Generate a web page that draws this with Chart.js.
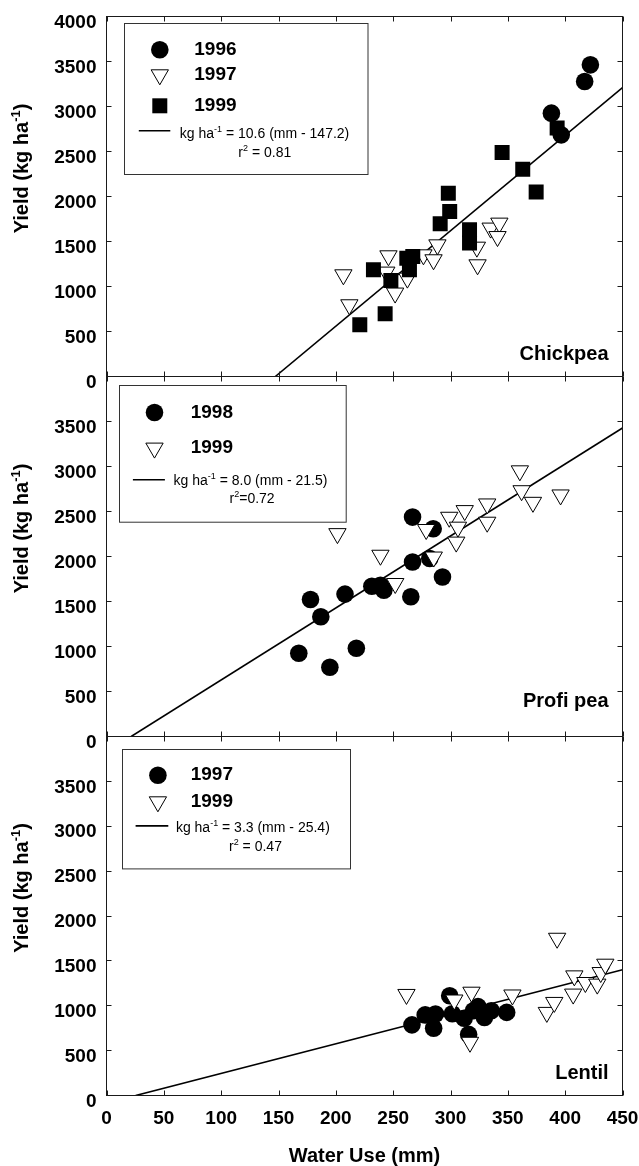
<!DOCTYPE html>
<html lang="en">
<head>
    <meta charset="UTF-8">
    <title>Yield vs Water Use</title>
    <script src="https://cdn.jsdelivr.net/npm/chart.js"></script>
    <style>
        body {
            margin: 0;
            background: #fff;
            width: 639px;
            height: 1166px;
            overflow: hidden;
            position: relative;
        }
        canvas {
            position: absolute;
            left: 0;
        }
    </style>
</head>
<body>
    <canvas id="chickpeaChart" width="639" height="395" style="top:0px"></canvas>
    <canvas id="profiChart" width="639" height="385" style="top:370px"></canvas>
    <canvas id="lentilChart" width="639" height="436" style="top:730px"></canvas>

    <script>
        // axis ticks (mm and kg/ha)
        const xTicks = [0, 50, 100, 150, 200, 250, 300, 350, 400, 450];
        const yTicks = [0, 500, 1000, 1500, 2000, 2500, 3000, 3500, 4000];

        // Chickpea [water use mm, yield kg/ha]
        const chickpea1996 = [[422, 3463], [417, 3277], [388, 2926], [396.6, 2685]];
        const chickpea1997 = [[206.6, 1130], [211.8, 797], [245.9, 1341], [244, 1160], [251.7, 927], [262.4, 1093],
            [276.4, 1352], [285.2, 1297], [288.6, 1463], [323, 1437], [323.6, 1241], [335, 1649], [342.6, 1704], [341, 1555]];
        const chickpea1999 = [[220.9, 575], [243, 697], [232.8, 1185], [248, 1067], [261.9, 1315], [267.1, 1333],
            [264.2, 1185], [291, 1696], [299.3, 1833], [298.1, 2037], [316.6, 1630], [316.6, 1482], [345, 2489],
            [363, 2304], [374.7, 2049], [393, 2760]];
        const chickpeaFit = [10.6, 147.2];

        // Profi pea
        const profi1998 = [[266.9, 2438], [284.9, 2309], [266.9, 1939], [281.9, 1977], [293, 1773], [231.4, 1670],
            [238.9, 1681], [241.9, 1626], [208, 1582], [177.9, 1523], [186.9, 1331], [265.4, 1552], [167.7, 925],
            [217.9, 981], [194.8, 770]];
        const profi1999 = [[201.4, 2254], [238.9, 2014], [251.8, 1700], [278.8, 2300], [285.4, 1994], [298.9, 2436],
            [312.4, 2510], [306.5, 2326], [305, 2160], [332, 2584], [332, 2381], [360.5, 2952], [362, 2731],
            [371.9, 2602], [396, 2684]];
        const profiFit = [8.0, 21.5];

        // Lentil
        const lentil1997 = [[266.4, 787], [277.9, 898], [286.9, 908], [285.3, 750], [299.3, 1111], [301.6, 911],
            [311.9, 861], [315.8, 681], [320, 944], [324, 990], [329.6, 870], [335.5, 945], [349, 926]];
        const lentil1999 = [[261.6, 1126], [303.3, 1064], [318.3, 1151], [317, 593], [354, 1120], [393, 1752],
            [384, 926], [390.5, 1037], [407, 1130], [408, 1333], [417.6, 1259], [428, 1241], [431, 1370], [435, 1463]];
        const lentilFit = [3.3, 25.4];

        const FONT = "'Liberation Sans', Arial, Helvetica, sans-serif";
        Chart.defaults.font.family = FONT;
        Chart.defaults.color = "#000";

        const markers = {
            circle: { style: "circle", r: 8.8, rot: 0, bg: "#000", bw: 0 },
            triangle: { style: "triangle", r: 10, rot: 180, bg: "#fff", bw: 1 },
            square: { style: "rect", r: 10.6, rot: 0, bg: "#000", bw: 0 }
        };

        function toXY(arr) {
            return arr.map(p => ({ x: p[0], y: p[1] }));
        }

        function pointSet(label, arr, kind, order) {
            const m = markers[kind];
            return {
                label: label,
                data: toXY(arr),
                pointStyle: m.style,
                pointRadius: m.r,
                pointHoverRadius: m.r,
                pointRotation: m.rot,
                pointBackgroundColor: m.bg,
                pointBorderColor: "#000",
                pointBorderWidth: m.bw,
                order: order
            };
        }

        function fitLine(fit) {
            // kg ha-1 = slope * (mm - x0), drawn from the x intercept to 450 mm
            const slope = fit[0], x0 = fit[1];
            return {
                label: "fit",
                data: [{ x: x0, y: 0 }, { x: 450, y: slope * (450 - x0) }],
                showLine: true,
                borderColor: "#000",
                borderWidth: 1.6,
                pointRadius: 0,
                order: 9
            };
        }

        function drawRich(ctx, parts, x, y, size, weight, align) {
            const base = weight + " " + size + "px " + FONT;
            const sup = weight + " " + Math.round(size * 0.65) + "px " + FONT;
            let w = 0;
            parts.forEach(p => { ctx.font = p[1] ? sup : base; w += ctx.measureText(p[0]).width; });
            let cx = align === "center" ? x - w / 2 : x;
            ctx.textAlign = "left";
            ctx.textBaseline = "alphabetic";
            parts.forEach(p => {
                ctx.font = p[1] ? sup : base;
                ctx.fillText(p[0], cx, p[1] ? y - size * 0.42 : y);
                cx += ctx.measureText(p[0]).width;
            });
        }

        function drawMarker(ctx, kind, x, y) {
            const m = markers[kind];
            ctx.fillStyle = m.bg;
            ctx.strokeStyle = "#000";
            ctx.lineWidth = m.bw;
            if (Chart.helpers && Chart.helpers.drawPoint) {
                Chart.helpers.drawPoint(ctx, { pointStyle: m.style, radius: m.r, rotation: m.rot, borderWidth: m.bw }, x, y);
                return;
            }
            ctx.beginPath();
            if (kind === "circle") {
                ctx.arc(x, y, m.r, 0, Math.PI * 2);
            } else if (kind === "square") {
                const s = m.r * Math.SQRT1_2;
                ctx.rect(x - s, y - s, 2 * s, 2 * s);
            } else {
                ctx.moveTo(x, y + m.r);
                ctx.lineTo(x - m.r * 0.866, y - m.r / 2);
                ctx.lineTo(x + m.r * 0.866, y - m.r / 2);
                ctx.closePath();
            }
            ctx.fill();
            if (m.bw > 0) ctx.stroke();
        }

        // frame with inward tick marks on all four sides
        const framePlugin = {
            id: "frame",
            afterDatasetsDraw(chart) {
                const { ctx, chartArea: a, scales } = chart;
                ctx.save();
                ctx.strokeStyle = "#1a1a1a";
                ctx.lineWidth = 1;
                ctx.strokeRect(a.left, a.top, a.right - a.left, a.bottom - a.top);
                ctx.beginPath();
                xTicks.forEach(v => {
                    const px = Math.round(scales.x.getPixelForValue(v)) + 0.5;
                    ctx.moveTo(px, a.top); ctx.lineTo(px, a.top + 5);
                    ctx.moveTo(px, a.bottom); ctx.lineTo(px, a.bottom - 5);
                });
                yTicks.forEach(v => {
                    const py = Math.round(scales.y.getPixelForValue(v) - 0.5) + 0.5;
                    ctx.moveTo(a.left, py); ctx.lineTo(a.left + 5, py);
                    ctx.moveTo(a.right, py); ctx.lineTo(a.right - 5, py);
                });
                ctx.stroke();
                ctx.restore();
            }
        };

        // y title, legend box and crop name
        const panelTextPlugin = {
            id: "panelText",
            afterDraw(chart, args, o) {
                const { ctx, chartArea: a } = chart;
                ctx.save();
                ctx.fillStyle = "#000";
                ctx.translate(28, (a.top + a.bottom) / 2 - 28);
                ctx.rotate(-Math.PI / 2);
                drawRich(ctx, [["Yield (kg ha"], ["-1", true], [")"]], 0, 0, 20, "bold", "center");
                ctx.restore();

                const bx = a.left + o.box[0], by = a.top + o.box[1];
                ctx.save();
                ctx.fillStyle = "#fff";
                ctx.fillRect(bx, by, o.box[2], o.box[3]);
                ctx.strokeStyle = "#333";
                ctx.lineWidth = 1;
                ctx.strokeRect(Math.round(bx) + 0.5, Math.round(by) + 0.5, o.box[2], o.box[3]);

                o.rows.forEach(r => {
                    drawMarker(ctx, r.marker, bx + o.markerX, by + r.dy);
                    ctx.fillStyle = "#000";
                    ctx.font = "bold 19px " + FONT;
                    ctx.textAlign = "left";
                    ctx.textBaseline = "middle";
                    ctx.fillText(r.label, bx + o.textX, by + r.dy);
                });

                ctx.strokeStyle = "#000";
                ctx.lineWidth = 1.6;
                ctx.beginPath();
                ctx.moveTo(bx + o.lineX[0], by + o.lineY);
                ctx.lineTo(bx + o.lineX[1], by + o.lineY);
                ctx.stroke();

                ctx.fillStyle = "#000";
                drawRich(ctx, [["kg ha"], ["-1", true], [o.eq]], bx + o.eqX, by + o.eqY, 14, "normal", "left");
                drawRich(ctx, [["r"], ["2", true], [o.r2]], bx + o.r2X, by + o.r2Y, 14, "normal", "center");

                ctx.font = "bold 20px " + FONT;
                ctx.textAlign = "right";
                ctx.textBaseline = "alphabetic";
                ctx.fillText(o.name, a.right - 14, a.bottom - o.nameDy);
                ctx.restore();
            }
        };

        function makePanel(canvasId, datasets, text, opts) {
            const showX = opts.showX;
            return new Chart(document.getElementById(canvasId), {
                type: "scatter",
                data: { datasets: datasets },
                options: {
                    responsive: false,
                    animation: false,
                    events: [],
                    layout: { autoPadding: false, padding: { top: opts.padTop, bottom: opts.padBottom, left: 0, right: 16.5 } },
                    plugins: {
                        legend: { display: false },
                        tooltip: { enabled: false },
                        panelText: text
                    },
                    scales: {
                        x: {
                            type: "linear",
                            min: 0,
                            max: 450,
                            display: showX,
                            grid: { display: false, drawTicks: false },
                            border: { display: false },
                            ticks: { stepSize: 50, padding: 12, font: { size: 19, weight: "bold" }, maxRotation: 0, autoSkip: false },
                            title: {
                                display: showX,
                                text: "Water Use (mm)",
                                font: { size: 20, weight: "bold", lineHeight: 1 },
                                padding: { top: 0, bottom: 0 }
                            },
                            afterFit: s => {
                                s.height = showX ? 70.5 : 0;
                                s.paddingLeft = 0;
                                s.paddingRight = 0;
                            }
                        },
                        y: {
                            type: "linear",
                            min: 0,
                            max: 4000,
                            grid: { display: false, drawTicks: false },
                            border: { display: false },
                            ticks: {
                                stepSize: 500,
                                padding: 10,
                                labelOffset: 6,
                                font: { size: 19, weight: "bold" },
                                callback: v => (opts.hideTop && v === 4000) ? "" : v
                            },
                            afterFit: s => {
                                s.width = 106.5;
                                s.paddingTop = 0;
                                s.paddingBottom = 0;
                            }
                        }
                    }
                },
                plugins: [framePlugin, panelTextPlugin]
            });
        }

        makePanel("chickpeaChart", [
            pointSet("1999", chickpea1999, "square", 0),
            pointSet("1997", chickpea1997, "triangle", 1),
            pointSet("1996", chickpea1996, "circle", 2),
            fitLine(chickpeaFit)
        ], {
            box: [17.3, 6, 243.5, 151],
            rows: [
                { marker: "circle", label: "1996", dy: 27.3 },
                { marker: "triangle", label: "1997", dy: 52.3 },
                { marker: "square", label: "1999", dy: 83.3 }
            ],
            markerX: 36, textX: 70.5,
            lineX: [15, 46.5], lineY: 108.3,
            eq: " = 10.6 (mm - 147.2)", eqX: 56, eqY: 115.3,
            r2: " = 0.81", r2X: 141, r2Y: 134,
            name: "Chickpea", nameDy: 16.7
        }, { padTop: 16.5, padBottom: 18.5, showX: false, hideTop: false });

        makePanel("profiChart", [
            pointSet("1999", profi1999, "triangle", 0),
            pointSet("1998", profi1998, "circle", 1),
            fitLine(profiFit)
        ], {
            box: [12.6, 8.3, 226.7, 136.7],
            rows: [
                { marker: "circle", label: "1998", dy: 27.7 },
                { marker: "triangle", label: "1999", dy: 63.3 }
            ],
            markerX: 35.4, textX: 71.6,
            lineX: [13.8, 45.8], lineY: 95,
            eq: " = 8.0 (mm - 21.5)", eqX: 54.4, eqY: 100,
            r2: "=0.72", r2X: 133, r2Y: 118.3,
            name: "Profi pea", nameDy: 30
        }, { padTop: 6.5, padBottom: 18.5, showX: false, hideTop: true });

        makePanel("lentilChart", [
            pointSet("1999", lentil1999, "triangle", 0),
            pointSet("1997", lentil1997, "circle", 1),
            fitLine(lentilFit)
        ], {
            box: [15.4, 12, 228, 119.4],
            rows: [
                { marker: "circle", label: "1997", dy: 26.7 },
                { marker: "triangle", label: "1999", dy: 53.3 }
            ],
            markerX: 36, textX: 68.8,
            lineX: [13.7, 46.4], lineY: 77.4,
            eq: " = 3.3 (mm - 25.4)", eqX: 54, eqY: 83.4,
            r2: " = 0.47", r2X: 133.6, r2Y: 102.4,
            name: "Lentil", nameDy: 16.7
        }, { padTop: 6.5, padBottom: 0, showX: true, hideTop: true });
    </script>
</body>
</html>
